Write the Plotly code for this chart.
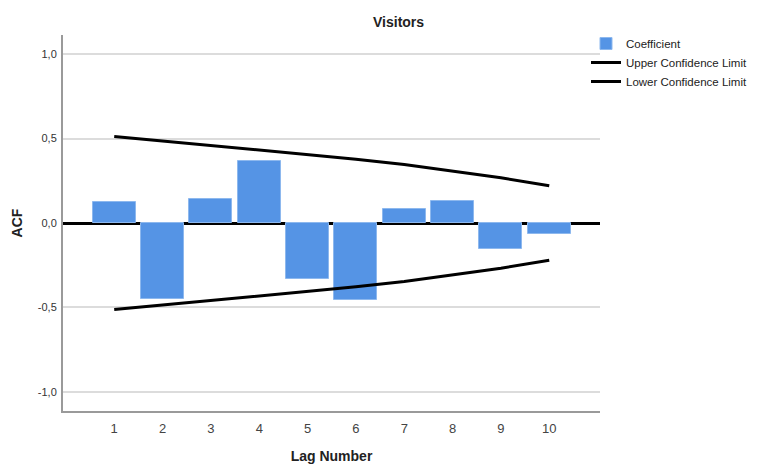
import plotly.graph_objects as go

lags = [1, 2, 3, 4, 5, 6, 7, 8, 9, 10]
acf = [0.125, -0.449, 0.141, 0.370, -0.334, -0.453, 0.085, 0.131, -0.152, -0.063]
upper = [0.512, 0.485, 0.458, 0.432, 0.405, 0.378, 0.346, 0.308, 0.268, 0.220]
lower = [-0.512, -0.485, -0.458, -0.432, -0.405, -0.378, -0.346, -0.308, -0.268, -0.220]
y_ticks = [-1.0, -0.5, 0.0, 0.5, 1.0]
y_ticktext = [f"{v:.1f}".replace(".", ",") for v in y_ticks]

FONT = "Liberation Sans, Arial, sans-serif"

# The page body adds an 8px offset; the figure is sized to fit the window.
OFF = 8
W, H = 757 - OFF, 464 - OFF
L, T = 63 - OFF, 35 - OFF
R, B = W - (600 - OFF), H - (411 - OFF)
plot_w = W - L - R
plot_h = H - T - B

fig = go.Figure()
fig.add_trace(go.Bar(
    x=lags, y=acf, name="Coefficient", width=0.89,
    marker=dict(color="#5594E5", line=dict(color="#8DB8EE", width=1)),
))
fig.add_trace(go.Scatter(
    x=lags, y=upper, name="Upper Confidence Limit", mode="lines",
    line=dict(color="black", width=3),
))
fig.add_trace(go.Scatter(
    x=lags, y=lower, name="Lower Confidence Limit", mode="lines",
    line=dict(color="black", width=3),
))

fig.update_layout(
    width=W, height=H,
    margin=dict(l=L, r=R, t=T, b=B, autoexpand=False),
    paper_bgcolor="white", plot_bgcolor="white",
    font=dict(family=FONT, color="#333"),
    showlegend=True,
    legend=dict(
        x=(586 - OFF - L) / plot_w, y=1 + (T - (29 - OFF)) / plot_h,
        xanchor="left", yanchor="top", borderwidth=0,
        itemwidth=30, font=dict(size=11.5, color="#222", family=FONT),
        tracegroupgap=0, bgcolor="rgba(0,0,0,0)",
    ),
    bargap=0,
    annotations=[
        dict(text="<b>Visitors</b>", x=(398 - 63) / plot_w,
             y=((411 - OFF) - (22 - OFF)) / plot_h,
             xref="paper", yref="paper", xanchor="center", yanchor="middle",
             showarrow=False, font=dict(size=14, color="#222")),
    ],
)

fig.update_xaxes(
    range=[-0.06, 11.05], tickmode="array", tickvals=lags,
    ticktext=[str(v) for v in lags],
    showgrid=False, zeroline=False,
    showline=True, linecolor="#9a9a9a", linewidth=2,
    ticks="", tickfont=dict(size=13, color="#444"), ticklabelstandoff=4,
    title=dict(text="<b>Lag Number</b>", font=dict(size=14, color="#222"), standoff=20),
)
fig.update_yaxes(
    range=[-1.113, 1.113], tickmode="array", tickvals=y_ticks, ticktext=y_ticktext,
    showgrid=True, gridcolor="#dcdcdc", gridwidth=1.5,
    zeroline=True, zerolinecolor="black", zerolinewidth=3,
    showline=True, linecolor="#9a9a9a", linewidth=2,
    ticks="", tickfont=dict(size=11, color="#333"), ticklabelstandoff=2,
    title=dict(text="<b>ACF</b>", font=dict(size=14, color="#222"), standoff=12),
)

fig.write_html("out.html")
